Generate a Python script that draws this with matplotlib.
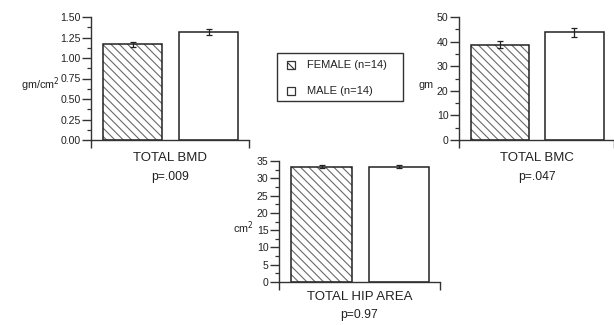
import matplotlib
matplotlib.use('Agg')
import matplotlib.pyplot as plt
from matplotlib.patches import Rectangle
import numpy as np

plt.rcParams['font.family'] = ['Liberation Sans', 'DejaVu Sans']
plt.rcParams['hatch.linewidth'] = 0.8

# data
groups = ['FEMALE (n=14)', 'MALE (n=14)']
bmd_mean = [1.165, 1.313]
bmd_err = [0.03, 0.038]
bmc_mean = [38.8, 43.7]
bmc_err = [1.4, 1.75]
hip_mean = [33.4, 33.4]
hip_err = [0.5, 0.4]

panels = [
    # name, p-value text, unit, means, errs, ymax, major, minor, tick format
    ('TOTAL BMD', 'p=.009', 'gm/cm$^2$', bmd_mean, bmd_err, 1.5, 0.25, 0.125, '%.2f'),
    ('TOTAL BMC', 'p=.047', 'gm', bmc_mean, bmc_err, 50, 10, 5, '%d'),
    ('TOTAL HIP AREA', 'p=0.97', 'cm$^2$', hip_mean, hip_err, 35, 5, 2.5, '%d'),
]

W, H = 614, 325
# axes boxes in pixels: left, right, top, bottom
boxes = [(91, 249, 17, 140), (459, 614, 17, 140), (279, 440, 161, 282)]
ylab_pos = [(40, 85), (426, 85), (243, 228)]
name_y = [158, 158, 297]
p_y = [177, 177, 315]

fig = plt.figure(figsize=(W / 100, H / 100), dpi=100)

hatch_col = '#6a6a6a'
ink = '#222222'
for (name, ptxt, unit, mean, err, ymax, major, minor, fmt), (l, r, t, b), (lx, ly), ny, py in zip(
        panels, boxes, ylab_pos, name_y, p_y):
    ax = fig.add_axes([l / W, 1 - b / H, (r - l) / W, (b - t) / H])
    xs = [0.265, 0.745]
    wd = 0.375
    ax.bar(xs[0], mean[0], wd, color='white', edgecolor=hatch_col, hatch='\\\\\\\\', linewidth=0)
    ax.bar(xs, mean, wd, color='none', edgecolor=ink, linewidth=1.1)
    ax.errorbar(xs, mean, yerr=err, fmt='none', ecolor=ink, elinewidth=0.9,
                capsize=2.5, capthick=0.9)
    ax.set_xlim(0, 1)
    ax.set_ylim(0, ymax)
    ax.set_xticks([0, 1])
    ax.set_xticklabels([])
    ax.tick_params(axis='x', length=6, width=1, direction='out', color='#333333')
    majors = np.arange(0, ymax + major / 2, major)
    ax.set_yticks(majors)
    ax.set_yticks(np.arange(0, ymax, minor), minor=True)
    ax.set_yticklabels([fmt % v for v in majors])
    ax.tick_params(axis='y', which='major', length=6.5, width=1, labelsize=7.6, pad=1,
                   color='#333333', labelcolor=ink)
    ax.tick_params(axis='y', which='minor', length=3, width=0.9, color='#333333')
    for s in ['top', 'right']:
        ax.spines[s].set_visible(False)
    for s in ['left', 'bottom']:
        ax.spines[s].set_linewidth(1)
        ax.spines[s].set_color('#333333')
    ax.patch.set_alpha(0)
    fig.text(lx / W, 1 - ly / H, unit, ha='center', va='center', fontsize=7.8, color=ink)
    cx = (l + r) / 2 / W
    fig.text(cx, 1 - ny / H, name, ha='center', va='center', fontsize=9.5, color=ink)
    fig.text(cx, 1 - py / H, ptxt, ha='center', va='center', fontsize=8.7, color=ink)

# legend box drawn by hand to match the original's padding
fig.patches.append(Rectangle((277 / W, 1 - 101 / H), 126 / W, 48 / H, transform=fig.transFigure,
                             facecolor='white', edgecolor='#333333', linewidth=1))
for i, (lab, hatch) in enumerate(zip(groups, ['\\\\\\\\', ''])):
    yc = 65 + 26 * i
    fig.patches.append(Rectangle((287 / W, 1 - (yc + 4) / H), 8 / W, 8 / H,
                                 transform=fig.transFigure, facecolor='white',
                                 edgecolor='#333333', hatch=hatch, linewidth=0.9))
    fig.text(307 / W, 1 - yc / H, lab, ha='left', va='center', fontsize=8, color=ink)

fig.savefig('out.png', dpi=100)
